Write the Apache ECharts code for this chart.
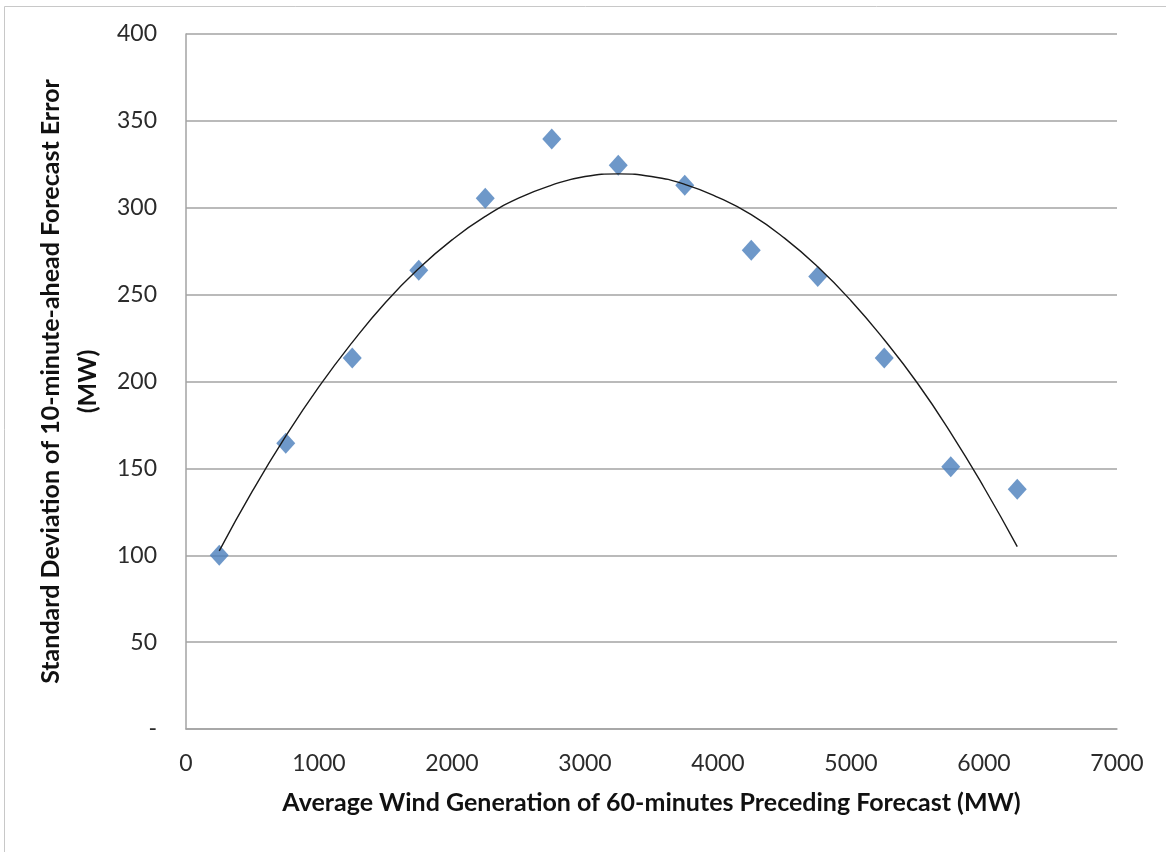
<!DOCTYPE html>
<html>
<head>
<meta charset="utf-8">
<script src="https://cdn.jsdelivr.net/npm/echarts@6/dist/echarts.min.js"></script>
<style>
  html, body { margin: 0; padding: 0; background: #fff; }
  #chart { width: 1166px; height: 852px; }
</style>
</head>
<body>
<div id="chart"></div>
<script>
// scatter points (MW)
const windGen = [250, 750, 1250, 1750, 2250, 2750, 3250, 3750, 4250, 4750, 5250, 5750, 6250];
const stdError = [100, 164.5, 213.5, 264, 305.5, 339.5, 324.5, 313, 275.5, 260.5, 213.5, 151, 138];

// polynomial trendline
const trendX = [250, 500, 750, 1000, 1250, 1500, 1750, 2000, 2250, 2500, 2750, 3000, 3250,
  3500, 3750, 4000, 4250, 4500, 4750, 5000, 5250, 5500, 5750, 6000, 6250];
const trendY = [102.5, 137, 168.5, 197, 222.5, 245.5, 265, 281.5, 295, 305.5, 313, 318, 319.5,
  318, 313.5, 306, 296, 282.5, 266, 246.5, 224, 199, 170.5, 139, 105];

const X_TITLE = "Average Wind Generation of 60-minutes Preceding Forecast (MW)";
const Y_TITLE = "Standard Deviation of 10-minute-ahead Forecast Error\n(MW)";

const FONT = "Lato, 'Open Sans', sans-serif";
const GRID_GRAY = "#a3a3a3";

const chart = echarts.init(document.getElementById("chart"), null, { renderer: "canvas" });

chart.setOption({
  backgroundColor: "#fff",
  animation: false,
  textStyle: { fontFamily: FONT },
  graphic: [
    {
      type: "rect",
      shape: { x: 4.5, y: 6.5, width: 1170, height: 860 },
      style: { fill: null, stroke: "#c8c8c8", lineWidth: 1 },
      silent: true,
    },
  ],
  grid: { left: 186, right: 49, top: 34, bottom: 123 },
  xAxis: {
    type: "value",
    min: 0,
    max: 7000,
    interval: 1000,
    name: X_TITLE,
    nameLocation: "middle",
    nameGap: 61,
    nameTextStyle: { fontFamily: FONT, fontSize: 25, fontWeight: "bold", color: "#111" },
    axisLine: { show: true, lineStyle: { color: GRID_GRAY, width: 1.5 } },
    axisTick: { show: false },
    splitLine: { show: false },
    axisLabel: {
      color: "#2b2b2b",
      fontSize: 23,
      margin: 23,
      fontFamily: FONT,
      formatter: (v) => String(v),
    },
  },
  yAxis: {
    type: "value",
    min: 0,
    max: 400,
    interval: 50,
    name: Y_TITLE,
    nameLocation: "middle",
    nameRotate: 90,
    nameGap: 78,
    nameTextStyle: {
      fontFamily: FONT,
      fontSize: 25,
      fontWeight: "bold",
      color: "#111",
      lineHeight: 37,
      align: "center",
    },
    axisLine: { show: true, lineStyle: { color: GRID_GRAY, width: 1.5 } },
    axisTick: { show: false },
    splitLine: { show: true, lineStyle: { color: GRID_GRAY, width: 1.5 } },
    axisLabel: {
      color: "#2b2b2b",
      fontSize: 23,
      margin: 29,
      fontFamily: FONT,
      formatter: (v) => (v === 0 ? "-" : String(v)),
    },
  },
  series: [
    {
      name: "Std dev",
      type: "scatter",
      data: windGen.map((x, i) => [x, stdError[i]]),
      symbol: "diamond",
      symbolSize: [19, 21],
      itemStyle: { color: "#4a7ebb" },
      z: 3,
    },
    {
      name: "Trend",
      type: "line",
      data: trendX.map((x, i) => [x, trendY[i]]),
      smooth: true,
      showSymbol: false,
      symbol: "none",
      lineStyle: { color: "#1a1a1a", width: 1.4 },
      z: 4,
    },
  ],
});
</script>
</body>
</html>
